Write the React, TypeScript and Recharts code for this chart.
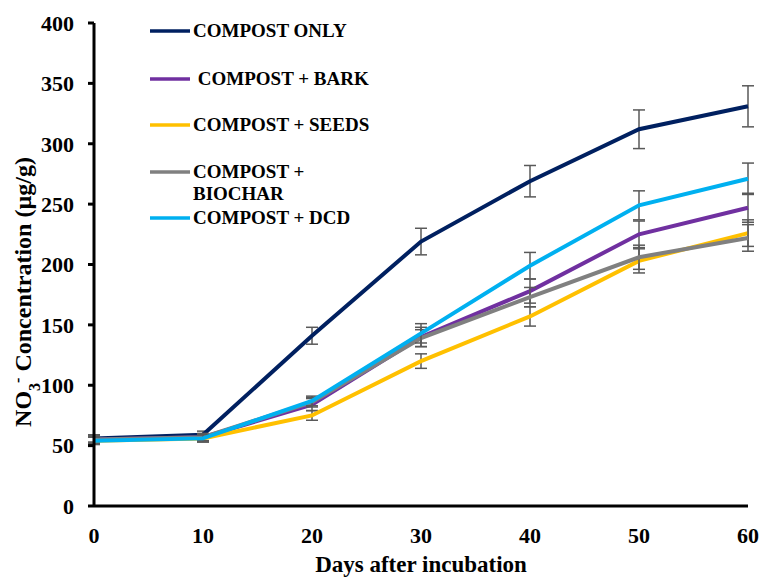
import { ErrorBar, Line, LineChart, XAxis, YAxis } from "recharts";

const FONT = '"Liberation Serif", "Times New Roman", serif';
const BAR = "#595959";

const DAYS = [0, 10, 20, 30, 40, 50, 60];
const X_TICKS = [0, 10, 20, 30, 40, 50, 60];
const Y_TICKS = [0, 50, 100, 150, 200, 250, 300, 350, 400];

const ONLY = [56, 59, 141, 219, 269, 312, 331];
const ONLY_ERR = [3, 3, 7, 11, 13, 16, 17];
const BARK = [55, 57, 84, 140, 178, 225, 247];
const BARK_ERR = [3, 3, 5, 8, 10, 11, 12];
const SEEDS = [54, 56, 75, 120, 157, 203, 226];
const SEEDS_ERR = [3, 3, 4, 6, 8, 10, 11];
const BIOCHAR = [55, 57, 86, 139, 173, 206, 222];
const BIOCHAR_ERR = [3, 3, 4, 7, 8, 10, 11];
const DCD = [54, 56, 87, 143, 199, 249, 271];
const DCD_ERR = [3, 3, 4, 8, 11, 12, 13];

const SERIES = [
  { key: "only", name: "COMPOST ONLY", color: "#002060", values: ONLY, err: ONLY_ERR },
  { key: "bark", name: " COMPOST + BARK", color: "#7030A0", values: BARK, err: BARK_ERR },
  { key: "seeds", name: "COMPOST + SEEDS", color: "#FFC000", values: SEEDS, err: SEEDS_ERR },
  { key: "biochar", name: "COMPOST +\nBIOCHAR", color: "#808080", values: BIOCHAR, err: BIOCHAR_ERR },
  { key: "dcd", name: "COMPOST + DCD", color: "#00B0F0", values: DCD, err: DCD_ERR },
];

const rows = DAYS.map((day, i) => {
  const row: Record<string, number> = { day };
  SERIES.forEach((s) => {
    row[s.key] = s.values[i];
    row[s.key + "Err"] = s.err[i];
  });
  return row;
});

// legend rows: centre y of the first text line, in page pixels
const LEGEND_Y = [31, 79, 125, 172, 218];

function LegendBox() {
  return (
    <div
      style={{
        position: "absolute",
        left: 150,
        top: 0,
        width: 260,
        height: 240,
        fontFamily: FONT,
        fontWeight: "bold",
        fontSize: 19,
      }}
    >
      {SERIES.map((s, i) => (
        <div key={s.key} style={{ position: "absolute", left: 0, top: LEGEND_Y[i] - 11, display: "flex" }}>
          <svg width={43} height={22} style={{ flex: "none" }}>
            <line x1={0} x2={40} y1={11} y2={11} stroke={s.color} strokeWidth={3.5} />
          </svg>
          <span style={{ whiteSpace: "pre", lineHeight: "22px", color: "#000" }}>{s.name}</span>
        </div>
      ))}
    </div>
  );
}

export default function App() {
  return (
    <div style={{ position: "absolute", left: 0, top: 0, width: 761, height: 577, background: "#fff" }}>
      <LineChart width={761} height={577} data={rows} margin={{ top: 23, right: 13, bottom: 0, left: 0 }}>
        <XAxis
          dataKey="day"
          type="number"
          domain={[0, 60]}
          ticks={X_TICKS}
          height={71}
          axisLine={{ stroke: "#000", strokeWidth: 3 }}
          tickLine={false}
          tickSize={6}
          tickMargin={15}
          tick={{ fontSize: 22, fontFamily: FONT, fontWeight: "bold", fill: "#000" }}
          label={() => (
            <text
              x={421}
              y={572}
              textAnchor="middle"
              style={{ fontSize: 23, fontFamily: FONT, fontWeight: "bold", fill: "#000" }}
            >
              Days after incubation
            </text>
          )}
        />
        <YAxis
          type="number"
          domain={[0, 400]}
          ticks={Y_TICKS}
          width={94}
          axisLine={{ stroke: "#000", strokeWidth: 3 }}
          tickLine={{ stroke: "#000", strokeWidth: 3 }}
          tickSize={6}
          tickMargin={14}
          tick={{ fontSize: 22, fontFamily: FONT, fontWeight: "bold", fill: "#000" }}
          label={() => (
            <text
              x={31}
              y={292}
              transform="rotate(-90 31 292)"
              textAnchor="middle"
              style={{ fontSize: 24, fontFamily: FONT, fontWeight: "bold", fill: "#000" }}
            >
              NO
              <tspan baselineShift="sub" fontSize={16}>3</tspan>
              <tspan baselineShift="super" fontSize={16}>-</tspan>
              <tspan> Concentration (µg/g)</tspan>
            </text>
          )}
        />
        {SERIES.map((s) => (
          <Line
            key={s.key}
            dataKey={s.key}
            name={s.name}
            type="linear"
            stroke={s.color}
            strokeWidth={4}
            dot={false}
            activeDot={false}
            isAnimationActive={false}
          >
            <ErrorBar dataKey={s.key + "Err"} direction="y" width={6} stroke={BAR} strokeWidth={1.5} />
          </Line>
        ))}
      </LineChart>
      <LegendBox />
    </div>
  );
}
